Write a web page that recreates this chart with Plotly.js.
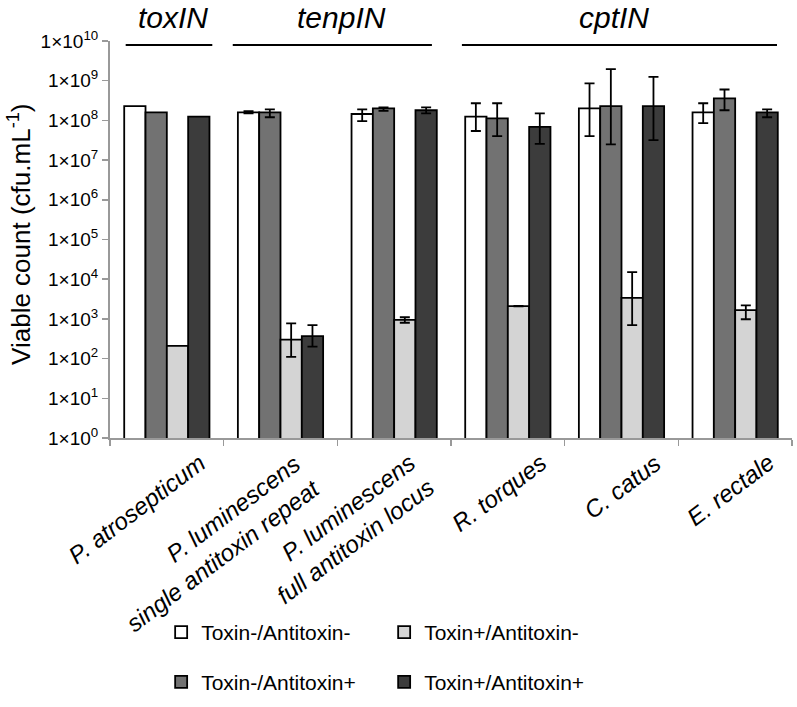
<!DOCTYPE html>
<html>
<head>
<meta charset="utf-8">
<script src="https://cdn.plot.ly/plotly-3.0.1.min.js"></script>
<style>html,body{margin:0;padding:0;background:#fff;}#chart{width:797px;height:707px;}</style>
</head>
<body>
<div id="chart"></div>
<script>
// Categories (strains)
const categories = [
  "P. atrosepticum",
  "P. luminescens<br>single antitoxin repeat",
  "P. luminescens<br>full antitoxin locus",
  "R. torques",
  "C. catus",
  "E. rectale"
];

// Series names
const seriesNames = ["Toxin-/Antitoxin-", "Toxin-/Antitoxin+", "Toxin+/Antitoxin-", "Toxin+/Antitoxin+"];

// Viable counts (cfu/mL)
const toxMinusAntiMinus = [2.3e8, 1.6e8, 1.45e8, 1.24e8, 2.0e8, 1.6e8];
const toxMinusAntiPlus  = [1.6e8, 1.6e8, 2.0e8, 1.13e8, 2.3e8, 3.6e8];
const toxPlusAntiMinus  = [2.1e2, 3.0e2, 9.4e2, 2.1e3, 3.4e3, 1.67e3];
const toxPlusAntiPlus   = [1.24e8, 3.7e2, 1.8e8, 6.9e7, 2.3e8, 1.6e8];

// Error bars (upper / lower extents)
const errUp_MM   = [NaN, 1.0e7, 4.5e7, 1.46e8, 6.6e8, 1.1e8];
const errDown_MM = [NaN, 1.0e7, 4.9e7, 7.0e7, 1.6e8, 7.5e7];
const errUp_MP   = [NaN, 3.0e7, 1.4e7, 1.57e8, 1.73e9, 2.4e8];
const errDown_MP = [NaN, 4.0e7, 2.6e7, 7.3e7, 2.05e8, 1.8e8];
const errUp_PM   = [NaN, 4.7e2, 1.6e2, 3.0e1, 1.16e4, 5.3e2];
const errDown_PM = [NaN, 1.9e2, 1.4e2, 3.0e1, 2.7e3, 6.9e2];
const errUp_PP   = [NaN, 3.3e2, 3.4e7, 8.1e7, 1.02e9, 3.0e7];
const errDown_PP = [NaN, 1.7e2, 3.0e7, 4.35e7, 1.98e8, 4.0e7];

// Y tick values and labels
const yTickVals = [1, 10, 100, 1e3, 1e4, 1e5, 1e6, 1e7, 1e8, 1e9, 1e10];
const yTickText = yTickVals.map((v, i) => "1×10<sup>" + i + "</sup>");
const yTitle = "Viable count (cfu.mL<sup>-1</sup>)";

// Group labels above bars
const groupLabels = ["toxIN", "tenpIN", "cptIN"];

const colors = ["#ffffff", "#727272", "#d4d4d4", "#3c3c3c"];
const values = [toxMinusAntiMinus, toxMinusAntiPlus, toxPlusAntiMinus, toxPlusAntiPlus];
const errUp = [errUp_MM, errUp_MP, errUp_PM, errUp_PP];
const errDown = [errDown_MM, errDown_MP, errDown_PM, errDown_PP];
const legendFor = ["legend", "legend2", "legend", "legend2"];

const traces = values.map((vals, i) => ({
  type: "bar",
  name: seriesNames[i],
  x: categories,
  y: vals,
  marker: {color: colors[i], line: {color: "#000", width: 1.8}},
  error_y: {type: "data", symmetric: false, array: errUp[i], arrayminus: errDown[i],
            color: "#000", thickness: 1.8, width: 5},
  legend: legendFor[i]
}));

const FONT = "Liberation Sans, Arial, sans-serif";

const legendBase = {orientation: "h", x: 0.075, xanchor: "left", yanchor: "middle",
  font: {family: FONT, size: 21}, entrywidth: 178, entrywidthmode: "pixels",
  itemwidth: 30, traceorder: "normal"};

// category labels drawn as rotated annotations under the axis (positioned by category index)
const catLabels = categories.map((c, i) => ({
  text: c, x: i, xref: "x", y: 0, yref: "paper",
  xanchor: "right", yanchor: "top", align: "right", textangle: -37,
  xshift: 47, yshift: -8, showarrow: false,
  font: {family: FONT, size: 24, style: "italic"}
}));

const layout = {
  width: 797, height: 707,
  margin: {l: 110, r: 5, t: 41, b: 269},
  paper_bgcolor: "#fff", plot_bgcolor: "#fff",
  font: {family: FONT, color: "#000"},
  barmode: "group", bargap: 0.25, bargroupgap: 0,
  xaxis: {
    type: "category", range: [-0.5, categories.length - 0.5],
    showline: true, linecolor: "#999", linewidth: 2,
    ticks: "outside", tickson: "boundaries", ticklen: 6, tickcolor: "#999", tickwidth: 1.5,
    showticklabels: false,
    showgrid: false, zeroline: false, fixedrange: true
  },
  yaxis: {
    type: "log", range: [0, 10],
    tickvals: yTickVals, ticktext: yTickText,
    tickfont: {family: FONT, size: 19},
    showline: true, linecolor: "#999", linewidth: 2,
    ticks: "outside", ticklen: 6, tickcolor: "#999", tickwidth: 1.5,
    showgrid: false, zeroline: false
  },
  legend: Object.assign({y: -0.49}, legendBase),
  legend2: Object.assign({y: -0.615}, legendBase),
  annotations: [
    {text: groupLabels[0], x: 0.092, y: 1.058},
    {text: groupLabels[1], x: 0.339, y: 1.058},
    {text: groupLabels[2], x: 0.739, y: 1.058}
  ].map(a => Object.assign(a, {xref: "paper", yref: "paper", showarrow: false,
        xanchor: "center", yanchor: "middle", font: {family: FONT, size: 30, style: "italic"}}))
  .concat([{text: yTitle, xref: "paper", yref: "paper", x: -0.132, y: 0.514, textangle: -90,
        showarrow: false, xanchor: "center", yanchor: "middle", font: {family: FONT, size: 26}}])
  .concat(catLabels),
  shapes: [
    {x0: 0.023, x1: 0.150},
    {x0: 0.180, x1: 0.472},
    {x0: 0.516, x1: 0.978}
  ].map(s => Object.assign(s, {type: "line", xref: "paper", yref: "paper", y0: 0.99, y1: 0.99,
        line: {color: "#000", width: 2}}))
};

Plotly.newPlot("chart", traces, layout, {displayModeBar: false, staticPlot: true});
</script>
</body>
</html>
